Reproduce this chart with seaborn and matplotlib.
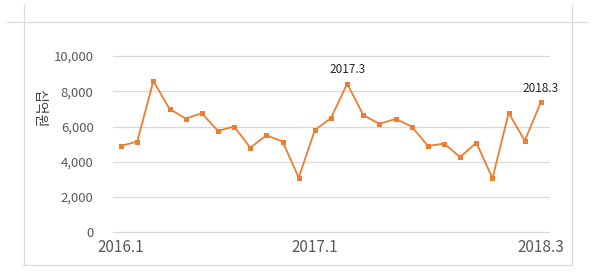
import matplotlib
matplotlib.use("Agg")
import matplotlib.pyplot as plt
import seaborn as sns
import pandas as pd
from matplotlib.lines import Line2D

months = ["2016.1","2016.2","2016.3","2016.4","2016.5","2016.6","2016.7","2016.8","2016.9",
          "2016.10","2016.11","2016.12","2017.1","2017.2","2017.3","2017.4","2017.5","2017.6",
          "2017.7","2017.8","2017.9","2017.10","2017.11","2017.12","2018.1","2018.2","2018.3"]
values = [4900, 5150, 8580, 7000, 6450, 6750, 5750, 6000, 4800, 5500, 5150, 3100,
          5800, 6480, 8430, 6650, 6150, 6430, 6000, 4900, 5030, 4270, 5080, 3060,
          6770, 5200, 7390]
shown_ticks = ["2016.1", "2017.1", "2018.3"]
annotated = ["2017.3", "2018.3"]
y_ticks = [0, 2000, 4000, 6000, 8000, 10000]
y_label = "십억원"

sns.set_theme(style="white")
plt.rcParams['font.family'] = ['Noto Sans CJK KR', 'DejaVu Sans']

df = pd.DataFrame({"pos": range(len(months)), "month": months, "value": values})

fig = plt.figure(figsize=(6, 2.72), dpi=100)
ax = fig.add_axes([113/600, 1-232.3/272, 436/600, 176.3/272])

for t in y_ticks:
    ax.axhline(t, color="#D9D9D9", lw=0.9, zorder=0, clip_on=False)

sns.lineplot(data=df, x="pos", y="value", ax=ax, color="#ED7D31", lw=1.3,
             marker="s", markersize=3.6, markeredgewidth=0, zorder=3)

ax.set_xlim(-0.5, len(months) - 0.5)
ax.set_ylim(0, 10000)
for s in ax.spines.values():
    s.set_visible(False)

ax.set_yticks(y_ticks)
ax.set_yticklabels([f"{t:,}" for t in y_ticks], fontsize=9.5, color="#595959")
pos_ticks = [months.index(m) for m in shown_ticks]
ax.set_xticks(pos_ticks)
ax.set_xticklabels(shown_ticks, fontsize=11, color="#595959")
ax.tick_params(axis="both", length=0)
ax.tick_params(axis="y", pad=14)
ax.tick_params(axis="x", pad=5)
ax.set_xlabel("")
ax.set_ylabel("")
ax.grid(False)

for m in annotated:
    i = months.index(m)
    ax.annotate(m, (i, values[i]), xytext=(0, 10), textcoords="offset points",
                ha="center", va="center", fontsize=8.5, color="#262626",
                fontweight="medium")

fig.text(39/600, 1-108/272, y_label, rotation=270, ha="center", va="center",
         fontsize=10, color="#404040")

lc = "#DCDCDC"
fig.add_artist(Line2D([7/600, 588/600], [1-21.5/272, 1-21.5/272], color=lc, lw=0.9))
fig.add_artist(Line2D([23/600, 572/600], [1-264.5/272, 1-264.5/272], color=lc, lw=0.9))
fig.add_artist(Line2D([23.5/600, 23.5/600], [1-5/272, 1-265/272], color=lc, lw=0.9))
fig.add_artist(Line2D([571.5/600, 571.5/600], [1-5/272, 1-265/272], color=lc, lw=0.9))

fig.savefig("out.png", dpi=100, facecolor="white")
